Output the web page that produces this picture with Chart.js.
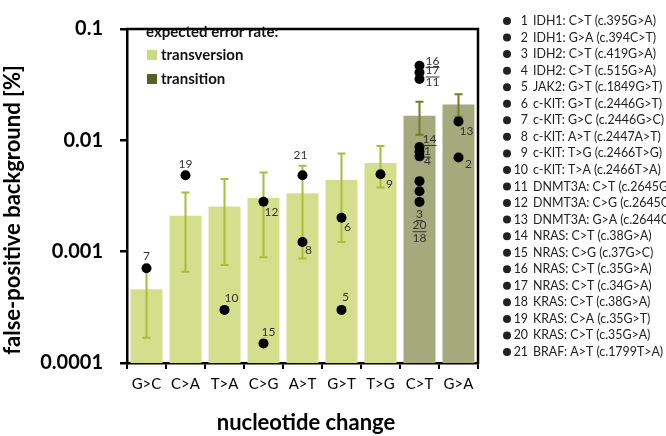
<!DOCTYPE html>
<html><head><meta charset="utf-8">
<script src="https://cdn.jsdelivr.net/npm/chart.js@4/dist/chart.umd.min.js"></script>
<style>html,body{margin:0;padding:0;background:#fff;}#wrap{width:666px;height:436px;position:relative;}</style>
</head><body><div id="wrap"><canvas id="c" width="666" height="436"></canvas></div>
<script>
// ---- data ----
const categories = ['G>C','C>A','T>A','C>G','A>T','G>T','T>G','C>T','G>A'];
const mutationClass = ['transversion','transversion','transversion','transversion','transversion','transversion','transversion','transition','transition'];
const expectedRate = [4.6e-4, 2.1e-3, 2.55e-3, 3.04e-3, 3.35e-3, 4.4e-3, 6.26e-3, 1.66e-2, 2.1e-2];
const errLow  = [1.69e-4, 6.6e-4, 7.6e-4, 8.9e-4, 8.7e-4, 1.22e-3, 3.77e-3, 1.12e-2, 1.63e-2];
const errHigh = [7.0e-4, 3.4e-3, 4.5e-3, 5.15e-3, 5.9e-3, 7.6e-3, 8.9e-3, 2.22e-2, 2.6e-2];

const mutationIds = [1,2,3,4,5,6,7,8,9,10,11,12,13,14,15,16,17,18,19,20,21];
const mutationCategory = ['C>T','G>A','C>T','C>T','G>T','G>T','G>C','A>T','T>G','T>A','C>T','C>G','G>A','C>T','C>G','C>T','C>T','C>T','C>A','C>T','A>T'];
const mutationValue = [7.91e-3, 7.0e-3, 4.3e-3, 7.18e-3, 3.0e-4, 2.02e-3, 7.1e-4, 1.22e-3, 4.95e-3, 3.0e-4, 3.55e-2, 2.81e-3, 1.48e-2, 8.72e-3, 1.5e-4, 4.67e-2, 4.07e-2, 2.8e-3, 4.85e-3, 3.49e-3, 4.85e-3];
const mutationNames = ['IDH1: C>T (c.395G>A)','IDH1: G>A (c.394C>T)','IDH2: C>T (c.419G>A)','IDH2: C>T (c.515G>A)','JAK2: G>T (c.1849G>T)','c-KIT: G>T (c.2446G>T)','c-KIT: G>C (c.2446G>C)','c-KIT: A>T (c.2447A>T)','c-KIT: T>G (c.2466T>G)','c-KIT: T>A (c.2466T>A)','DNMT3A: C>T (c.2645G>A)','DNMT3A: C>G (c.2645G>C)','DNMT3A: G>A (c.2644C>T)','NRAS: C>T (c.38G>A)','NRAS: C>G (c.37G>C)','NRAS: C>T (c.35G>A)','NRAS: C>T (c.34G>A)','KRAS: C>T (c.38G>A)','KRAS: C>A (c.35G>T)','KRAS: C>T (c.35G>A)','BRAF: A>T (c.1799T>A)'];
const underlinedIds = [1,3,14,16,17,20];

const tickValues = [0.0001, 0.001, 0.01, 0.1];
const tickLabels = ['0.0001','0.001','0.01','0.1'];
const legendTitle = 'expected error rate:';
const classNames = ['transversion','transition'];
const yTitle = 'false-positive background [%]';
const xTitle = 'nucleotide change';

// ---- styles (not data) ----
const labelOffsets = [[8,-1],[10,7],[0,33],[8,5],[4,-13],[6,9],[0,-12],[6,8],[9,10],[7,-12],[13,3],[8,10],[8,10],[10,-8],[5,-11],[13,-5],[13,-2],[0,36],[0,-11],[0,34],[-2,-20]];
const barColor = {transversion:'#d3df8d', transition:'#a5aa7c'};
const errColor = {transversion:'#a9bc3c', transition:'#717f26'};
const swatchColor = {transversion:'#c9dc84', transition:'#55611f'};
const FONT = 'Lato, "Open Sans", sans-serif';

const plugin = {
  id:'extras',
  afterDatasetDraw(chart, args){
    if (args.index !== 1) return;
    const ctx = chart.ctx, x = chart.scales.x, y = chart.scales.y;
    ctx.save();
    categories.forEach((c,i)=>{
      const cx = x.getPixelForValue(i);
      const y1 = y.getPixelForValue(errLow[i]), y2 = y.getPixelForValue(errHigh[i]);
      ctx.strokeStyle = errColor[mutationClass[i]];
      ctx.lineWidth = 2;
      ctx.beginPath();
      ctx.moveTo(cx,y1); ctx.lineTo(cx,y2);
      ctx.moveTo(cx-4,y1); ctx.lineTo(cx+4,y1);
      ctx.moveTo(cx-4,y2); ctx.lineTo(cx+4,y2);
      ctx.stroke();
    });
    ctx.restore();
  },
  afterDraw(chart){
    const ctx = chart.ctx, a = chart.chartArea, x = chart.scales.x, y = chart.scales.y;
    ctx.save();
    // frame top/right
    ctx.strokeStyle = '#000'; ctx.lineWidth = 2.5;
    ctx.beginPath();
    ctx.moveTo(a.left-1.25, a.top); ctx.lineTo(a.right, a.top); ctx.lineTo(a.right, a.bottom+1.25);
    ctx.stroke();
    // dot labels
    ctx.font = '12px ' + FONT;
    ctx.fillStyle = '#333';
    ctx.textAlign = 'center'; ctx.textBaseline = 'middle';
    mutationIds.forEach((id,k)=>{
      const px = x.getPixelForValue(categories.indexOf(mutationCategory[k]));
      const py = y.getPixelForValue(mutationValue[k]);
      const tx = px + labelOffsets[k][0], ty = py + labelOffsets[k][1];
      const t = String(id);
      ctx.fillText(t, tx, ty);
      if (underlinedIds.includes(id)) {
        const w = ctx.measureText(t).width;
        ctx.fillRect(tx - w/2, ty + 6, w, 1);
      }
    });
    // in-plot legend
    ctx.textAlign = 'left';
    ctx.fillStyle = '#111';
    ctx.font = 'bold 15px ' + FONT;
    ctx.fillText(legendTitle, 146, 32);
    classNames.forEach((n,i)=>{
      const cy = 55 + i*24;
      ctx.fillStyle = swatchColor[n];
      ctx.fillRect(147, cy-5, 10, 10);
      ctx.fillStyle = '#111';
      ctx.fillText(n, 161, cy);
    });
    // axis titles
    ctx.font = 'bold 22px ' + FONT;
    ctx.textAlign = 'center';
    ctx.fillStyle = '#000';
    ctx.fillText(xTitle, 306, 423);
    ctx.save();
    ctx.translate(13, 210);
    ctx.rotate(-Math.PI/2);
    ctx.fillText(yTitle, 0, 0);
    ctx.restore();
    // right-side list
    ctx.font = '12.4px ' + FONT;
    ctx.fillStyle = '#222';
    mutationIds.forEach((id,k)=>{
      const cy = 21 + k*16.55;
      ctx.beginPath(); ctx.arc(507, cy, 4, 0, Math.PI*2); ctx.fill();
      ctx.textAlign = 'right';
      ctx.fillText(String(id), 528, cy);
      ctx.textAlign = 'left';
      ctx.fillText(mutationNames[k], 533, cy);
    });
    ctx.restore();
  }
};

new Chart(document.getElementById('c'), {
  type:'bar',
  data:{
    labels: categories,
    datasets:[
      {
        type:'line', showLine:false, order:0,
        data: mutationIds.map((id,k)=>({x: mutationCategory[k], y: mutationValue[k]})),
        pointRadius:5, pointHoverRadius:5, pointBackgroundColor:'#000', pointBorderColor:'#000', pointBorderWidth:0
      },
      {
        type:'bar', order:1,
        data: expectedRate,
        backgroundColor: mutationClass.map(c=>barColor[c]),
        borderWidth:0, barPercentage:0.82, categoryPercentage:1
      }
    ]
  },
  options:{
    responsive:false, animation:false,
    layout:{padding:{top:8, right:188, left:0, bottom:0}},
    plugins:{legend:{display:false}, tooltip:{enabled:false}},
    scales:{
      x:{
        offset:true,
        grid:{offset:true, drawOnChartArea:false, drawTicks:true, tickLength:6, color:'#000', lineWidth:2},
        border:{display:true, color:'#000', width:2.5},
        ticks:{color:'#000', font:{family:FONT, size:15}, padding:6, maxRotation:0},
        afterFit(s){ s.height = 73; }
      },
      y:{
        type:'logarithmic', min:0.0001, max:0.1,
        afterBuildTicks(s){ s.ticks = tickValues.map(v=>({value:v})); },
        grid:{drawOnChartArea:false, drawTicks:true, tickLength:7, color:'#000', lineWidth:2.5},
        border:{display:true, color:'#000', width:2.5},
        ticks:{color:'#000', font:{family:FONT, size:20, weight:'bold'}, padding:17, callback:(v,i)=>tickLabels[i]},
        afterFit(s){ s.width = 127; }
      }
    }
  },
  plugins:[plugin]
});
</script></body></html>
